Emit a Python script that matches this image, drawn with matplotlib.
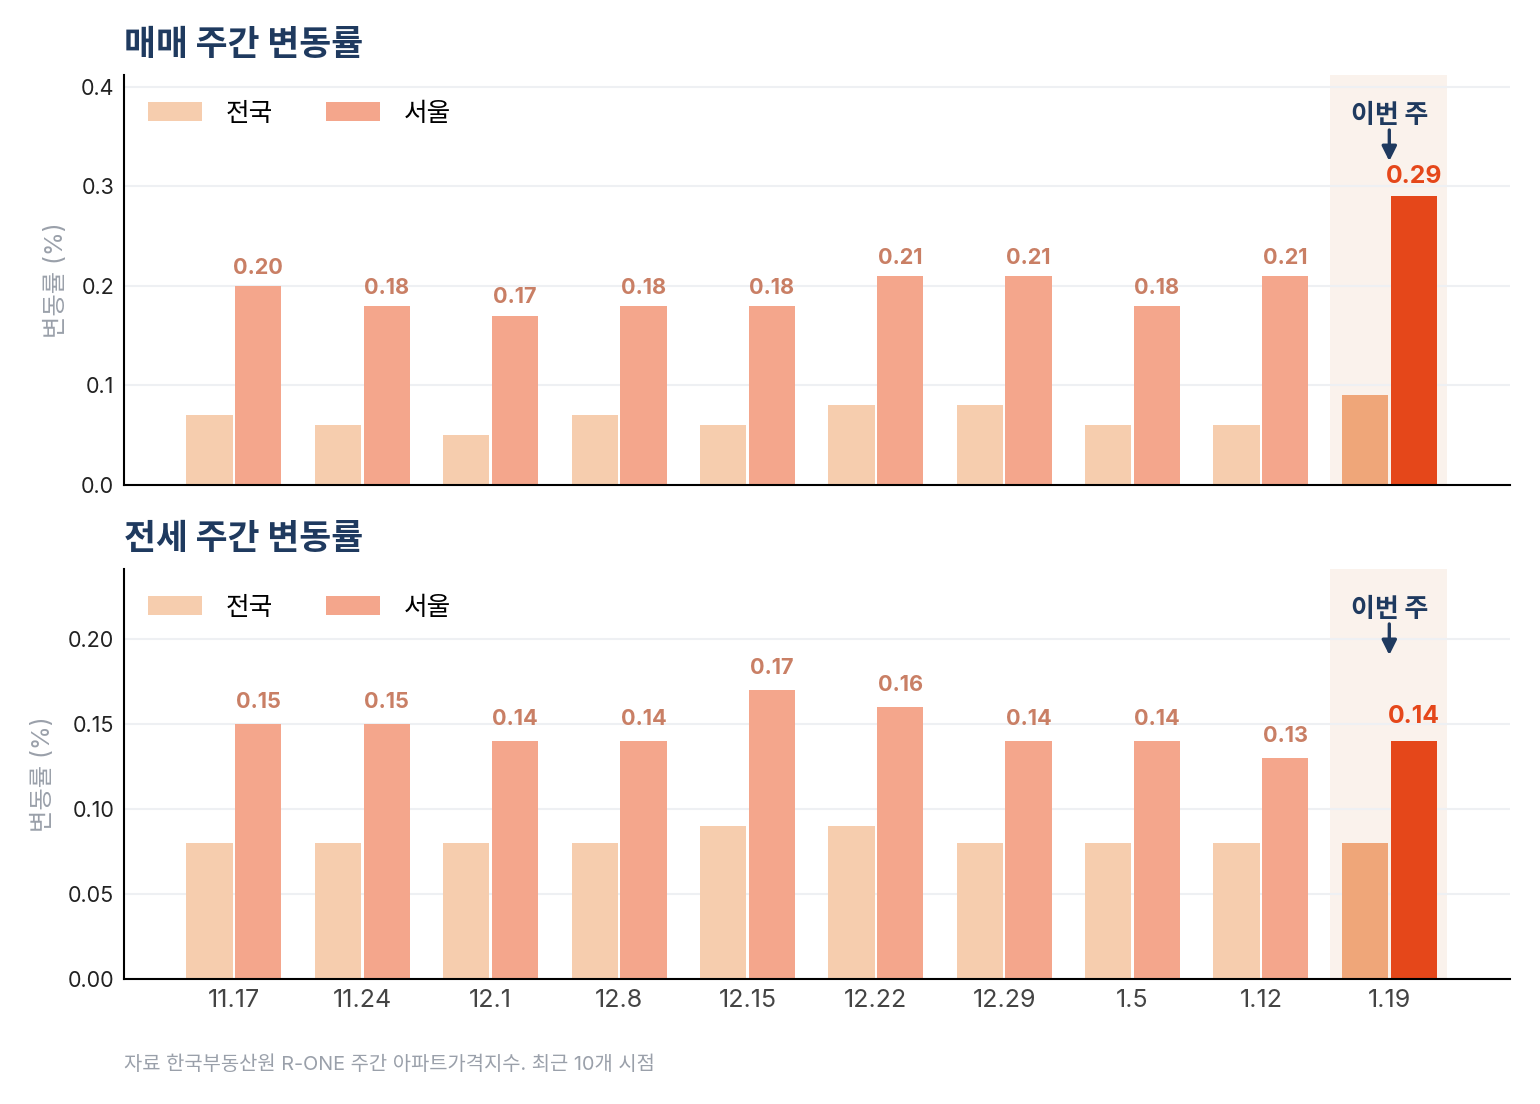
import matplotlib
matplotlib.use("Agg")
import matplotlib.pyplot as plt
from matplotlib.ticker import MultipleLocator, FormatStrFormatter
import numpy as np

plt.rcParams['font.family'] = ['Inter', 'Noto Sans CJK KR', 'DejaVu Sans']

# data
weeks = ["11.17", "11.24", "12.1", "12.8", "12.15", "12.22", "12.29", "1.5", "1.12", "1.19"]
sale_nation = [0.07, 0.06, 0.05, 0.07, 0.06, 0.08, 0.08, 0.06, 0.06, 0.09]
sale_seoul = [0.20, 0.18, 0.17, 0.18, 0.18, 0.21, 0.21, 0.18, 0.21, 0.29]
rent_nation = [0.08, 0.08, 0.08, 0.08, 0.09, 0.09, 0.08, 0.08, 0.08, 0.08]
rent_seoul = [0.15, 0.15, 0.14, 0.14, 0.17, 0.16, 0.14, 0.14, 0.13, 0.14]

NAVY = "#1F3A5F"
C_NATION = "#F6CDAE"
C_SEOUL = "#F4A68C"
C_NATION_HI = "#EFA679"
C_SEOUL_HI = "#E5471A"
C_LABEL = "#C97F65"
GRID = "#EEF0F3"
SPAN = "#FAF2EC"

fig = plt.figure(figsize=(15.4, 11.04), dpi=100)
ax1 = fig.add_axes([0.0805, 0.5607, 0.900, 0.3713])
ax2 = fig.add_axes([0.0805, 0.1132, 0.900, 0.3714])


def draw_panel(ax, nation, seoul, title, step, fmt, pad_frac):
    x = np.arange(len(weeks))
    n = len(weeks)
    ymax = max(seoul) * 1.42
    col_n = [C_NATION] * (n - 1) + [C_NATION_HI]
    col_s = [C_SEOUL] * (n - 1) + [C_SEOUL_HI]
    ax.axvspan(n - 1 - 0.46, n - 1 + 0.45, color=SPAN, zorder=0, lw=0)
    ax.bar(x - 0.19, nation, width=0.36, color=col_n, zorder=2, label="전국")
    ax.bar(x + 0.19, seoul, width=0.36, color=col_s, zorder=2, label="서울")
    for i, v in enumerate(seoul):
        hi = i == n - 1
        ax.text(x[i] + 0.19, v + ymax * pad_frac * (1.12 if hi else 1.0), f"{v:.2f}",
                ha="center", va="baseline", fontsize=17.8 if hi else 15.6,
                fontweight="bold", color=C_SEOUL_HI if hi else C_LABEL, zorder=3)
    ax.set_xlim(-0.857, 9.94)
    ax.set_ylim(0, ymax)
    ax.yaxis.set_major_locator(MultipleLocator(step))
    ax.yaxis.set_major_formatter(FormatStrFormatter(fmt))
    ax.grid(axis="y", color=GRID, lw=1.5, zorder=0.5)
    ax.set_axisbelow(True)
    for s in ["top", "right"]:
        ax.spines[s].set_visible(False)
    ax.spines["left"].set_linewidth(1.5)
    ax.spines["bottom"].set_linewidth(1.5)
    ax.tick_params(axis="y", length=0, pad=7, labelsize=15.5, labelcolor="#222222")
    ax.tick_params(axis="x", length=0, pad=7, labelsize=18, labelcolor="#444444")
    ax.set_ylabel("변동률 (%)", fontsize=17.5, color="#9AA0AA", labelpad=9)
    ax.text(0, 1.071, title, transform=ax.transAxes, fontsize=25, fontweight="heavy",
            color=NAVY, ha="left", va="center")
    ax.legend(loc="upper left", bbox_to_anchor=(0.001, 0.99), ncol=2, frameon=False,
              fontsize=18.5, handlelength=2.1, handleheight=0.75, columnspacing=2.08,
              handletextpad=0.9)
    ax.text(n - 1, 0.90, "이번 주", transform=ax.get_xaxis_transform(), ha="center",
            va="center", fontsize=18.7, fontweight="heavy", color=NAVY)
    ax.annotate("", xy=(n - 1, 0.79), xytext=(n - 1, 0.866),
                xycoords=ax.get_xaxis_transform(), textcoords=ax.get_xaxis_transform(),
                arrowprops=dict(arrowstyle="-|>", color=NAVY, lw=2.4, mutation_scale=22,
                                shrinkA=0, shrinkB=0))


draw_panel(ax1, sale_nation, sale_seoul, "매매 주간 변동률", 0.1, "%.1f", 0.03)
draw_panel(ax2, rent_nation, rent_seoul, "전세 주간 변동률", 0.05, "%.2f", 0.04)

ax1.set_xticks(np.arange(len(weeks)))
ax1.set_xticklabels([])
ax2.set_xticks(np.arange(len(weeks)))
ax2.set_xticklabels(weeks)

fig.text(0.0805, 0.036, "자료 한국부동산원 R-ONE 주간 아파트가격지수. 최근 10개 시점",
         fontsize=14.3, color="#9AA0AA", ha="left", va="center")

fig.savefig("out.png", dpi=100)
